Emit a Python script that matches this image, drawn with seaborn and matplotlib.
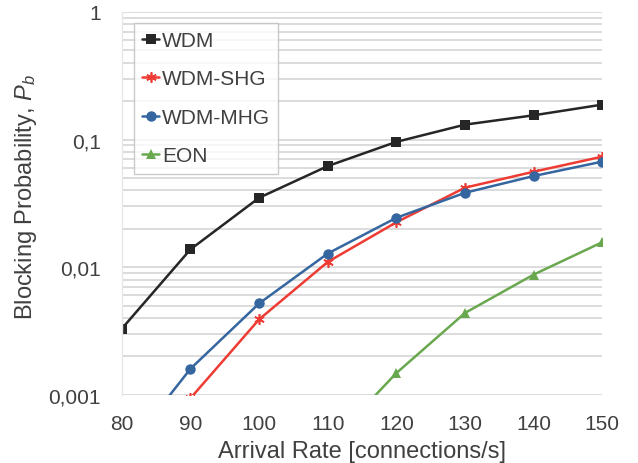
import numpy as np
import pandas as pd
import matplotlib
matplotlib.use("Agg")
import matplotlib.pyplot as plt
import seaborn as sns
from matplotlib.ticker import FixedLocator, LogLocator, NullFormatter

# values
rates = [80, 90, 100, 110, 120, 130, 140, 150]
wdm = [0.0033, 0.0138, 0.035, 0.062, 0.096, 0.131, 0.155, 0.188]
wdm_shg = [0.00022, 0.00094, 0.0039, 0.011, 0.0225, 0.042, 0.056, 0.0735]
wdm_mhg = [0.00033, 0.0016, 0.0052, 0.0128, 0.0244, 0.0383, 0.0518, 0.0672]
eon_rates = [110, 120, 130, 140, 150]
eon = [0.0004, 0.00148, 0.00438, 0.00875, 0.0157]

series = ["WDM", "WDM-SHG", "WDM-MHG", "EON"]
colors = ["#262626", "#ee3b33", "#3566a0", "#6aa84f"]
markers = ["s", (6, 2, 0), "o", "^"]
y_ticks = [0.001, 0.01, 0.1, 1]
y_tick_labels = ["0,001", "0,01", "0,1", "1"]

data = {
    "WDM": (rates, wdm),
    "WDM-SHG": (rates, wdm_shg),
    "WDM-MHG": (rates, wdm_mhg),
    "EON": (eon_rates, eon),
}

sns.set_style("white")
plt.rcParams["font.family"] = ["Liberation Sans", "DejaVu Sans"]
plt.rcParams["mathtext.fontset"] = "custom"
plt.rcParams["mathtext.it"] = "Liberation Sans:italic"
plt.rcParams["mathtext.rm"] = "Liberation Sans"

text_col = "#404040"
fig, ax = plt.subplots(figsize=(6.38, 4.64), dpi=100)
fig.subplots_adjust(left=0.191, right=0.944, top=0.972, bottom=0.147)

for name, col, mk in zip(series, colors, markers):
    xs, ys = data[name]
    d = pd.DataFrame({"rate": xs, "pb": ys})
    sns.lineplot(data=d, x="rate", y="pb", color=col, marker=mk,
                 markersize=7.5, markeredgewidth=1.2 if mk == (6, 2, 0) else 0,
                 markeredgecolor=col, linewidth=1.8, label=name, ax=ax)

ax.set_yscale("log")
ax.set_ylim(0.001, 1)
ax.set_xlim(80, 150)
ax.set_xticks(rates)
ax.yaxis.set_major_locator(FixedLocator(y_ticks))
ax.set_yticklabels(y_tick_labels)
ax.yaxis.set_minor_locator(LogLocator(base=10, subs=np.arange(2, 10)))
ax.yaxis.set_minor_formatter(NullFormatter())
ax.grid(which="both", axis="y", color="#d9d9d9", linewidth=1.3)
ax.grid(False, axis="x")
ax.set_axisbelow(True)

for side in ["top", "right", "bottom"]:
    ax.spines[side].set_visible(False)
ax.spines["left"].set_color("#e6e6e6")
ax.spines["left"].set_linewidth(1.0)

ax.tick_params(axis="y", which="major", length=6, color="#d9d9d9", width=1.3,
               labelsize=15, labelcolor=text_col, pad=9)
ax.tick_params(axis="y", which="minor", length=0)
ax.tick_params(axis="x", length=0, labelsize=15, labelcolor=text_col, pad=14)

ax.set_xlabel("Arrival Rate [connections/s]", fontsize=17, color=text_col, labelpad=5)
ax.set_ylabel("Blocking Probability, $P_b$", fontsize=17, color=text_col)
ax.yaxis.set_label_coords(-0.172, 0.52)

leg = ax.legend(loc="upper left", bbox_to_anchor=(0.025, 0.972), fontsize=15,
                frameon=True, fancybox=False, edgecolor="#bfbfbf",
                handlelength=0.8, handletextpad=0.15, labelspacing=0.93,
                borderpad=0.4, borderaxespad=0.0)
leg.get_frame().set_linewidth(1.0)
for t in leg.get_texts():
    t.set_color(text_col)

fig.savefig("out.png", dpi=100)
